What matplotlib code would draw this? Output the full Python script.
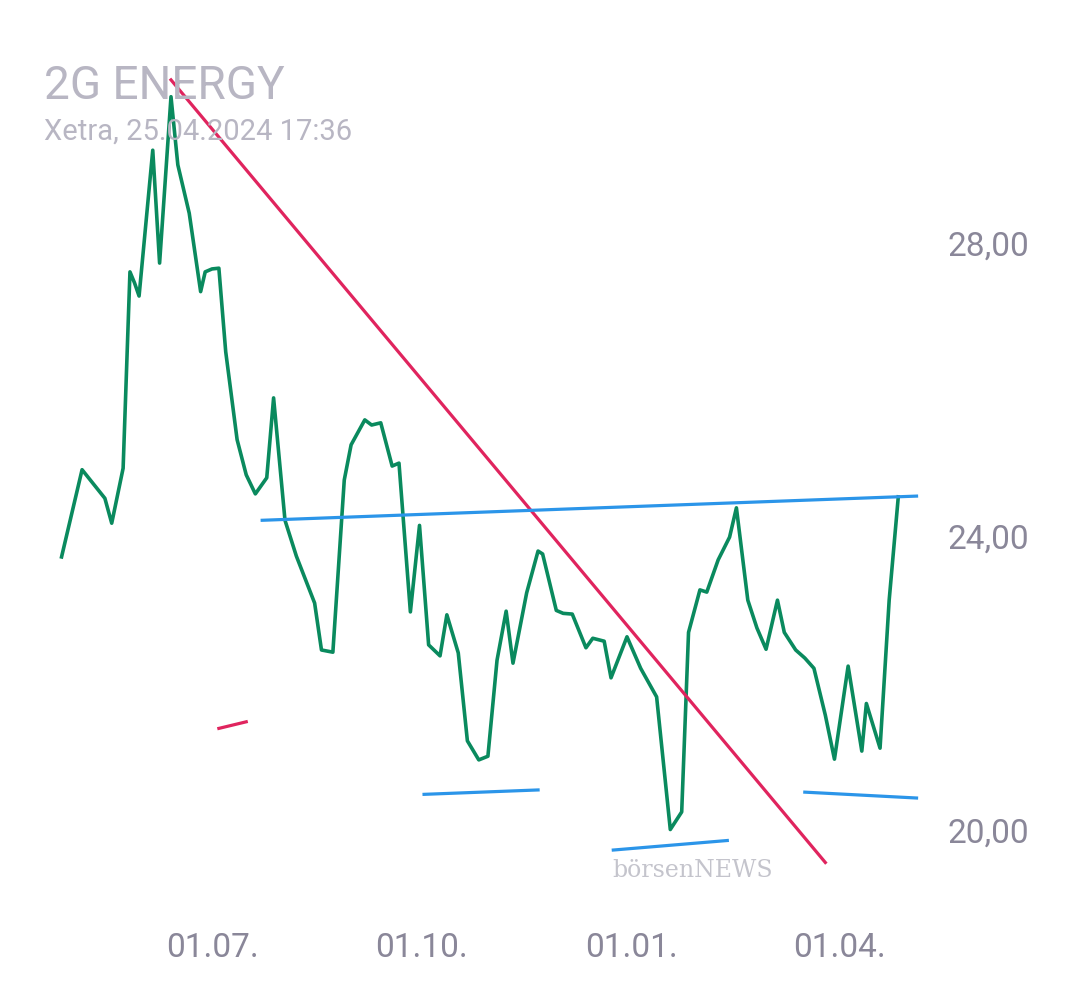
import matplotlib.pyplot as plt
import pandas as pd

# price series: days since 01.07.2023, close price
days = [-66, -57, -47, -44, -39, -36, -34, -32, -26, -23, -18, -15, -10, -5, -3, 0, 3, 6, 11, 15,
        19, 24, 27, 32, 37, 45, 48, 53, 58, 61, 67, 70, 74, 79, 82, 87, 91, 95, 100, 103,
        108, 112, 117, 121, 125, 129, 132, 138, 143, 145, 151, 154, 158, 164, 167, 172, 175, 182, 188, 195,
        201, 206, 209, 214, 217, 222, 227, 230, 235, 239, 243, 248, 251, 256, 260, 264, 269, 273, 279, 285,
        287, 293, 297, 301]
price = [23.77, 24.96, 24.57, 24.23, 24.98, 27.66, 27.51, 27.33, 29.32, 27.78, 30.05, 29.12, 28.46, 27.39, 27.66, 27.70, 27.71, 26.57, 25.37, 24.89,
         24.63, 24.85, 25.94, 24.27, 23.78, 23.14, 22.50, 22.47, 24.82, 25.30, 25.64, 25.57, 25.60, 25.01, 25.05, 23.02, 24.20, 22.57, 22.42, 22.98,
         22.46, 21.26, 21.00, 21.05, 22.36, 23.03, 22.32, 23.28, 23.85, 23.81, 23.04, 23.00, 22.99, 22.53, 22.66, 22.62, 22.12, 22.68, 22.25, 21.86,
         20.05, 20.29, 22.74, 23.32, 23.29, 23.73, 24.04, 24.44, 23.18, 22.80, 22.51, 23.18, 22.74, 22.50, 22.39, 22.25, 21.61, 21.01, 22.28, 21.12,
         21.77, 21.16, 23.18, 24.59]

# drawn trend lines: (day0, value0, day1, value1)
red_lines = [(-18, 30.28, 269, 19.60), (3, 21.43, 15, 21.52)]
blue_lines = [(22, 24.27, 309, 24.60), (93, 20.53, 143, 20.59),
              (176, 19.77, 226, 19.90), (260, 20.56, 309, 20.48)]

y_ticks = [20, 24, 28]
x_ticks = [0, 92, 184, 275]
x_tick_labels = ['01.07.', '01.10.', '01.01.', '01.04.']

base = pd.Timestamp('2023-07-01')
to_date = lambda d: base + pd.Timedelta(days=d)

fig = plt.figure(figsize=(10.8, 9.9), dpi=100)
ax = fig.add_axes([0, 0, 1, 1])
ax.set_axis_off()
ax.set_xlim(to_date(-93), to_date(380.7))
ax.set_ylim(17.86, 31.37)

ax.plot([to_date(d) for d in days], price, color='#0a8a5e', lw=2.6, zorder=3)
for d0, v0, d1, v1 in red_lines:
    ax.plot([to_date(d0), to_date(d1)], [v0, v1], color='#e0245e', lw=2.3, zorder=4)
for d0, v0, d1, v1 in blue_lines:
    ax.plot([to_date(d0), to_date(d1)], [v0, v1], color='#2b95e9', lw=2.3, zorder=4)

for t in y_ticks:
    ax.text(0.953, t, f'{t},00', transform=ax.get_yaxis_transform(), ha='right', va='center',
            fontsize=24, color='#8a8799', family='Roboto')
for d, lab in zip(x_ticks, x_tick_labels):
    ax.text(to_date(d), 0.042, lab, transform=ax.get_xaxis_transform(), ha='center', va='center',
            fontsize=24, color='#8a8799', family='Roboto')

fig.text(0.041, 0.913, '2G ENERGY', fontsize=33, color='#b8b6c3', family='Roboto', va='center')
fig.text(0.041, 0.867, 'Xetra, 25.04.2024 17:36', fontsize=21, color='#b8b6c3', family='Roboto', va='center')
fig.text(0.567, 0.121, 'börsenNEWS', fontsize=17, color='#c4c4cc', family='DejaVu Serif', va='center')

fig.savefig('out.png')
